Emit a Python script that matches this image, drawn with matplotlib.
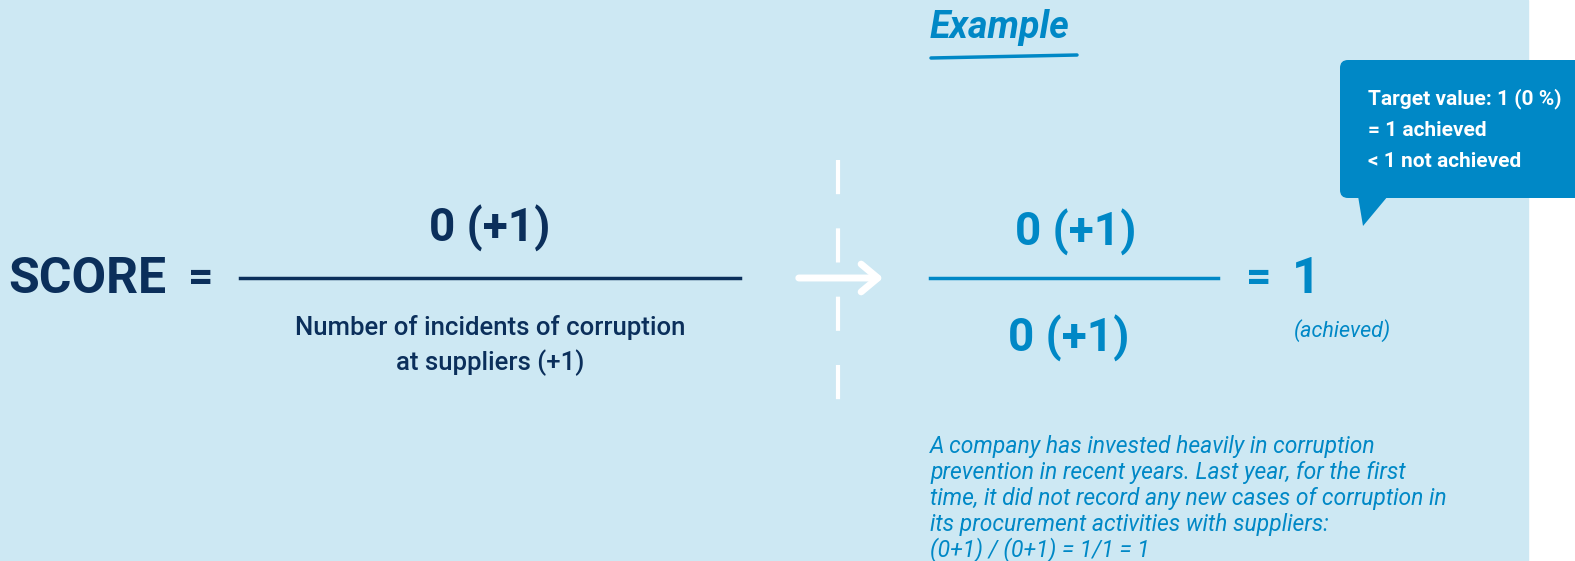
import matplotlib.pyplot as plt
from matplotlib.patches import Rectangle, FancyBboxPatch, Polygon

# colours
bg = "#cde8f3"
navy = "#0b2f5b"
blue = "#0088c6"

# texts
score_label = "SCORE"
numerator = "0 (+1)"
denominator_lines = ["Number of incidents of corruption", "at suppliers (+1)"]
example_title = "Example"
example_num = "0 (+1)"
example_den = "0 (+1)"
example_result = "1"
result_note = "(achieved)"
callout_lines = ["Target value: 1 (0 %)", "= 1 achieved", "< 1 not achieved"]
story_lines = [
    "A company has invested heavily in corruption",
    "prevention in recent years. Last year, for the first",
    "time, it did not record any new cases of corruption in",
    "its procurement activities with suppliers:",
    "(0+1) / (0+1) = 1/1 = 1",
]

W, H = 1575, 561
fig = plt.figure(figsize=(W / 100, H / 100), dpi=100)
ax = fig.add_axes([0, 0, 1, 1])
ax.set_xlim(0, W)
ax.set_ylim(H, 0)
ax.axis("off")

plt.rcParams["font.family"] = ["Roboto", "DejaVu Sans"]

ax.add_patch(Rectangle((0, 0), 1528, H, color=bg, zorder=0))

# left formula
ax.text(8, 279, score_label, fontsize=36, fontweight="bold", color=navy,
        va="center", ha="left")
ax.text(188, 279, "=", fontsize=32, fontweight="bold", color=navy,
        va="center", ha="left")
ax.plot([240, 740], [278, 278], color=navy, lw=2.5)
ax.text(490, 228, numerator, fontsize=33, fontweight="bold", color=navy,
        va="center", ha="center")
for i, line in enumerate(denominator_lines):
    ax.text(490, 327 + i * 36, line, fontsize=18.5, fontweight="medium",
            color=navy, va="center", ha="center")

# divider and arrow
ax.plot([838, 838], [160, 400], color="white", lw=3, dashes=(8.2, 8.2))
ax.annotate("", xy=(886, 278), xytext=(796, 278),
            arrowprops=dict(arrowstyle="->,head_length=1.2,head_width=1.0",
                            color="white", lw=5))

# example
ax.text(930, 27, example_title, fontsize=27, fontweight="bold",
        fontstyle="italic", color=blue, va="center", ha="left")
ax.plot([931, 1077], [58, 55], color=blue, lw=2.5, solid_capstyle="round")
ax.text(1076, 232, example_num, fontsize=33, fontweight="bold", color=blue,
        va="center", ha="center")
ax.plot([930, 1218], [278, 278], color=blue, lw=2.5)
ax.text(1069, 338, example_den, fontsize=33, fontweight="bold", color=blue,
        va="center", ha="center")
ax.text(1246, 279, "=", fontsize=32, fontweight="bold", color=blue,
        va="center", ha="left")
ax.text(1292, 279, example_result, fontsize=36, fontweight="bold", color=blue,
        va="center", ha="left")
ax.text(1342, 331, result_note, fontsize=15.5, fontstyle="italic", color=blue,
        va="center", ha="center")

for i, line in enumerate(story_lines):
    ax.text(930, 446 + i * 26, line, fontsize=16.5, fontstyle="italic",
            color=blue, va="center", ha="left")

# callout
ax.add_patch(FancyBboxPatch((1340, 60), 260, 138,
                            boxstyle="round,pad=0,rounding_size=8",
                            color=blue, lw=0, zorder=2))
ax.add_patch(Polygon([[1358, 196], [1363, 226], [1388, 196]], closed=True,
                     color=blue, lw=0, zorder=2))
for i, line in enumerate(callout_lines):
    ax.text(1368, 99 + i * 31, line, fontsize=15, fontweight="bold",
            color="white", va="center", ha="left", zorder=3)

fig.savefig("out.png", dpi=100)
